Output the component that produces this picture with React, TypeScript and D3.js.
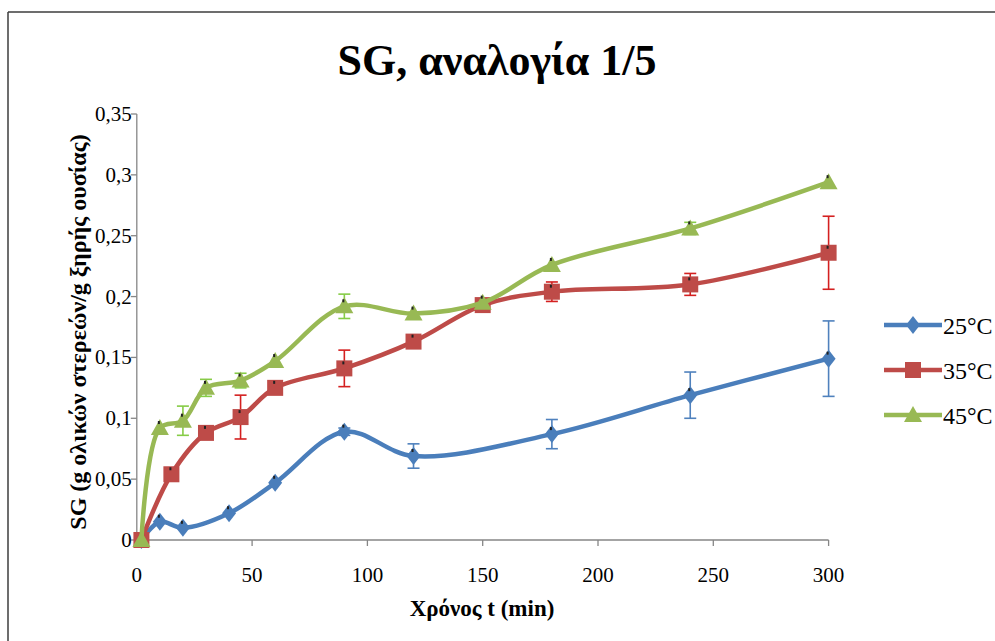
import React from "react";
import * as d3 from "d3";

const times25 = [2, 10, 20, 40, 60, 90, 120, 180, 240, 300];
const sg25 = [0, 0.015, 0.01, 0.022, 0.047, 0.089, 0.069, 0.087, 0.119, 0.149];
const err25 = [0, 0, 0, 0, 0, 0.003, 0.01, 0.012, 0.019, 0.031];

const times35 = [2, 15, 30, 45, 60, 90, 120, 150, 180, 240, 300];
const sg35 = [0, 0.054, 0.088, 0.101, 0.125, 0.141, 0.163, 0.193, 0.204, 0.21, 0.236];
const err35 = [0, 0, 0, 0.018, 0, 0.015, 0, 0, 0.008, 0.009, 0.03];

const times45 = [2, 10, 20, 30, 45, 60, 90, 120, 150, 180, 240, 300];
const sg45 = [0, 0.092, 0.098, 0.125, 0.131, 0.147, 0.192, 0.186, 0.195, 0.226, 0.256, 0.294];
const err45 = [0, 0, 0.012, 0.007, 0.006, 0, 0.01, 0, 0, 0, 0.005, 0];

const seriesNames = ["25°C", "35°C", "45°C"];
const xTicks = [0, 50, 100, 150, 200, 250, 300];
const yTicks = [0, 0.05, 0.1, 0.15, 0.2, 0.25, 0.3, 0.35];

const title = "SG, αναλογία 1/5";
const xTitle = "Χρόνος t (min)";
const yTitle = "SG (g ολικών στερεών/g ξηρής ουσίας)";

const W = 995;
const H = 641;
const FONT = "'Liberation Serif', 'Times New Roman', serif";

const x = d3.scaleLinear().domain([0, 300]).range([136.8, 828.6]);
const y = d3.scaleLinear().domain([0, 0.35]).range([540, 114]);

const series = [
  { name: seriesNames[0], t: times25, v: sg25, e: err25, color: "#4A7EBB", err: "#4F81BD", shape: "diamond" },
  { name: seriesNames[1], t: times35, v: sg35, e: err35, color: "#BE4B48", err: "#D42020", shape: "square" },
  { name: seriesNames[2], t: times45, v: sg45, e: err45, color: "#98B954", err: "#86CC46", shape: "triangle" },
];

function Marker({ shape, cx, cy, color }: { shape: string; cx: number; cy: number; color: string }) {
  if (shape === "diamond") {
    return <path d={`M${cx},${cy - 9}L${cx + 7},${cy}L${cx},${cy + 9}L${cx - 7},${cy}Z`} fill={color} />;
  }
  if (shape === "square") {
    return <rect x={cx - 8} y={cy - 8} width={16} height={16} fill={color} />;
  }
  return <path d={`M${cx},${cy - 9}L${cx + 9},${cy + 7}L${cx - 9},${cy + 7}Z`} fill={color} />;
}

export default function App() {
  const line = d3
    .line<[number, number]>()
    .x((d) => x(d[0]))
    .y((d) => y(d[1]))
    .curve(d3.curveCatmullRom.alpha(0.5));

  const fmt = (v: number) => d3.format("~g")(+v.toFixed(2)).replace(".", ",");

  return (
    <svg
      width={W}
      height={H}
      style={{ position: "absolute", left: 0, top: 0, background: "#fff" }}
      fontFamily={FONT}
    >
      <rect x={0} y={0} width={W} height={H} fill="#fff" />
      <line x1={8} y1={12} x2={W} y2={12} stroke="#3c3c3c" strokeWidth={1.5} />
      <line x1={8} y1={12} x2={8} y2={H} stroke="#3c3c3c" strokeWidth={1.5} />

      <text x={497} y={75} fontSize={44} fontWeight="bold" textAnchor="middle">
        {title}
      </text>

      {/* axes */}
      <g stroke="#868686" strokeWidth={1.3}>
        <line x1={x(0)} y1={y(0)} x2={x(0)} y2={y(0.35)} />
        <line x1={x(0)} y1={y(0)} x2={x(300)} y2={y(0)} />
        {yTicks.map((t) => (
          <line key={"yt" + t} x1={x(0) - 6} x2={x(0)} y1={y(t)} y2={y(t)} />
        ))}
        {xTicks.map((t) => (
          <line key={"xt" + t} x1={x(t)} x2={x(t)} y1={y(0)} y2={y(0) + 6} />
        ))}
      </g>
      {yTicks.map((t) => (
        <text key={"yl" + t} x={x(0) - 5} y={y(t) + 7} fontSize={21} textAnchor="end">
          {fmt(t)}
        </text>
      ))}
      {xTicks.map((t) => (
        <text key={"xl" + t} x={x(t)} y={y(0) + 42} fontSize={21} textAnchor="middle">
          {t}
        </text>
      ))}

      <text x={482} y={616} fontSize={23} fontWeight="bold" textAnchor="middle">
        {xTitle}
      </text>
      <text
        transform="translate(86,332) rotate(-90)"
        fontSize={24}
        fontWeight="bold"
        textAnchor="middle"
      >
        {yTitle}
      </text>

      {/* series */}
      {series.map((s) => {
        const pts: [number, number][] = s.t.map((t, i) => [t, s.v[i]]);
        return (
          <g key={s.name}>
            <path d={line(pts) || ""} fill="none" stroke={s.color} strokeWidth={4.5} strokeLinejoin="round" />
            {s.t.map((t, i) =>
              s.e[i] > 0 ? (
                <g key={"e" + i} stroke={s.err} strokeWidth={1.6}>
                  <line x1={x(t)} x2={x(t)} y1={y(s.v[i] - s.e[i])} y2={y(s.v[i] + s.e[i])} />
                  <line x1={x(t) - 6} x2={x(t) + 6} y1={y(s.v[i] - s.e[i])} y2={y(s.v[i] - s.e[i])} />
                  <line x1={x(t) - 6} x2={x(t) + 6} y1={y(s.v[i] + s.e[i])} y2={y(s.v[i] + s.e[i])} />
                </g>
              ) : null
            )}
            {s.t.map((t, i) => (
              <g key={"m" + i}>
                <Marker shape={s.shape} cx={x(t)} cy={y(s.v[i])} color={s.color} />
                {i > 0 && <rect x={x(t) - 2} y={y(s.v[i]) - 7} width={2} height={3} fill="#222" />}
              </g>
            ))}
          </g>
        );
      })}

      {/* legend */}
      {series.map((s, i) => {
        const ly = 325 + i * 45;
        return (
          <g key={"lg" + s.name}>
            <line x1={884} x2={942} y1={ly} y2={ly} stroke={s.color} strokeWidth={4.5} />
            <Marker shape={s.shape} cx={913} cy={ly} color={s.color} />
            <text x={943} y={ly + 9} fontSize={24}>
              {s.name}
            </text>
          </g>
        );
      })}
    </svg>
  );
}
